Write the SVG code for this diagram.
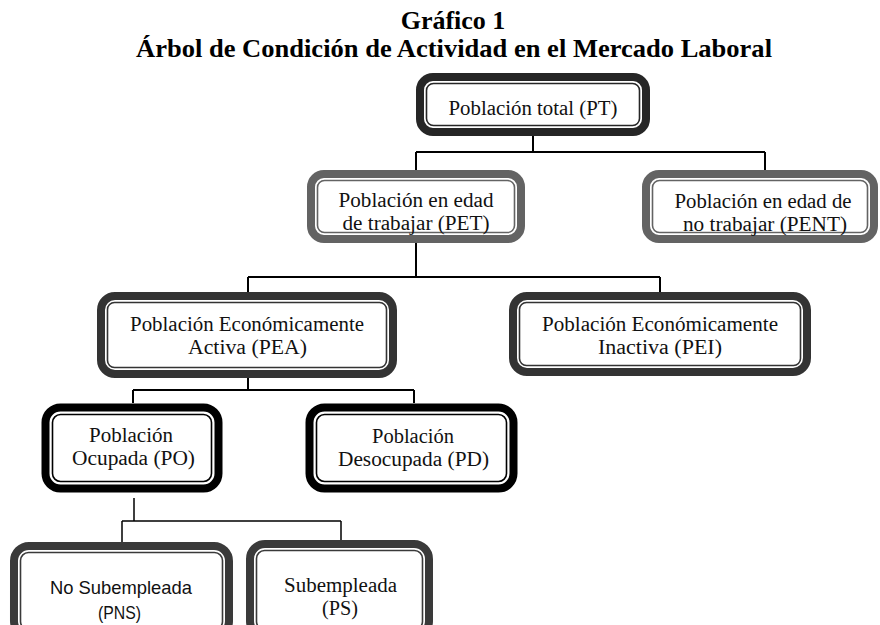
<svg xmlns="http://www.w3.org/2000/svg" width="880" height="625" viewBox="0 0 880 625">
<style>
.title{font-family:"Liberation Serif","Times New Roman",serif;font-weight:bold;font-size:26px;fill:#000;text-anchor:middle}
.t{font-family:"Liberation Serif","Times New Roman",serif;font-size:20px;fill:#111;text-anchor:middle}
.s{font-family:"Liberation Sans",Arial,sans-serif;font-size:18.5px;fill:#111;text-anchor:middle}
.outer{fill:#fff;stroke-width:8}
.inner{fill:none;stroke-width:1.6}
.c{stroke:#000;stroke-width:2;fill:none}
.c2{stroke:#000;stroke-width:1.5;fill:none}
</style>
<rect width="880" height="625" fill="#fff"/>
<text class="title" x="453" y="29">Gráfico 1</text>
<text class="title" x="454" y="57" textLength="636" lengthAdjust="spacingAndGlyphs">Árbol de Condición de Actividad en el Mercado Laboral</text>

<g id="connectors">
<path class="c" d="M533 136V152M416 152H765M416 152V170M765 152V170"/>
<path class="c" d="M416 243V277M248 277H660M248 277V292M660 277V292"/>
<path class="c" d="M248 378V390M133 390H414M133 390V403M414 390V403"/>
<path class="c2" d="M134 498V521M122 521H341M122 521V542M341 521V545"/>
</g>

<g id="PT">
<rect class="outer" x="420" y="77" width="226" height="55" rx="13" stroke="#262626"/>
<rect class="inner" x="426.5" y="83.5" width="213" height="42" rx="7" stroke="#262626"/>
<text class="t" x="533" y="115" textLength="169" lengthAdjust="spacingAndGlyphs">Población total (PT)</text>
</g>

<g id="PET">
<rect class="outer" x="311" y="174" width="210" height="65" rx="13" stroke="#636363"/>
<rect class="inner" x="317.5" y="180.5" width="197" height="52" rx="7" stroke="#636363"/>
<text class="t" x="416" y="207" textLength="155" lengthAdjust="spacingAndGlyphs">Población en edad</text>
<text class="t" x="416" y="230" textLength="147" lengthAdjust="spacingAndGlyphs">de trabajar (PET)</text>
</g>

<g id="PENT">
<rect class="outer" x="646" y="174" width="228" height="65" rx="13" stroke="#636363"/>
<rect class="inner" x="652.5" y="180.5" width="215" height="52" rx="7" stroke="#636363"/>
<text class="t" x="763" y="208" textLength="177" lengthAdjust="spacingAndGlyphs">Población en edad de</text>
<text class="t" x="765" y="231" textLength="164" lengthAdjust="spacingAndGlyphs">no trabajar (PENT)</text>
</g>

<g id="PEA">
<rect class="outer" x="101" y="296" width="292" height="78" rx="14" stroke="#333"/>
<rect class="inner" x="107.5" y="302.5" width="279" height="65" rx="7" stroke="#333"/>
<text class="t" x="247" y="331" textLength="234" lengthAdjust="spacingAndGlyphs">Población Económicamente</text>
<text class="t" x="247.5" y="354" textLength="119" lengthAdjust="spacingAndGlyphs">Activa (PEA)</text>
</g>

<g id="PEI">
<rect class="outer" x="513" y="296" width="294" height="76" rx="14" stroke="#333"/>
<rect class="inner" x="519.5" y="302.5" width="281" height="63" rx="7" stroke="#333"/>
<text class="t" x="660" y="331" textLength="236" lengthAdjust="spacingAndGlyphs">Población Económicamente</text>
<text class="t" x="660" y="354" textLength="124" lengthAdjust="spacingAndGlyphs">Inactiva (PEI)</text>
</g>

<g id="PO">
<rect class="outer" x="45.5" y="407.5" width="173" height="81" rx="15" stroke="#000" stroke-width="9"/>
<rect class="inner" x="52.5" y="414.5" width="159" height="67" rx="8" stroke="#000"/>
<text class="t" x="131" y="442" textLength="84" lengthAdjust="spacingAndGlyphs">Población</text>
<text class="t" x="133.5" y="465" textLength="123" lengthAdjust="spacingAndGlyphs">Ocupada (PO)</text>
</g>

<g id="PD">
<rect class="outer" x="309.5" y="407.5" width="204" height="81" rx="15" stroke="#000" stroke-width="9"/>
<rect class="inner" x="316.5" y="414.5" width="190" height="67" rx="8" stroke="#000"/>
<text class="t" x="413" y="443" textLength="82" lengthAdjust="spacingAndGlyphs">Población</text>
<text class="t" x="413.5" y="466" textLength="151" lengthAdjust="spacingAndGlyphs">Desocupada (PD)</text>
</g>

<g id="PNS">
<rect class="outer" x="14" y="546" width="215" height="90" rx="15" stroke="#3a3a3a"/>
<rect class="inner" x="20.5" y="552.5" width="202" height="77" rx="8" stroke="#3a3a3a"/>
<text class="s" x="121" y="594" textLength="142" lengthAdjust="spacingAndGlyphs">No Subempleada</text>
<text class="s" x="119.5" y="619" textLength="43" lengthAdjust="spacingAndGlyphs">(PNS)</text>
</g>

<g id="PS">
<rect class="outer" x="250" y="544" width="179" height="92" rx="15" stroke="#3a3a3a"/>
<rect class="inner" x="256.5" y="550.5" width="166" height="79" rx="8" stroke="#3a3a3a"/>
<text class="t" x="340.5" y="592" textLength="113" lengthAdjust="spacingAndGlyphs">Subempleada</text>
<text class="t" x="340" y="615" textLength="36" lengthAdjust="spacingAndGlyphs">(PS)</text>
</g>
</svg>
